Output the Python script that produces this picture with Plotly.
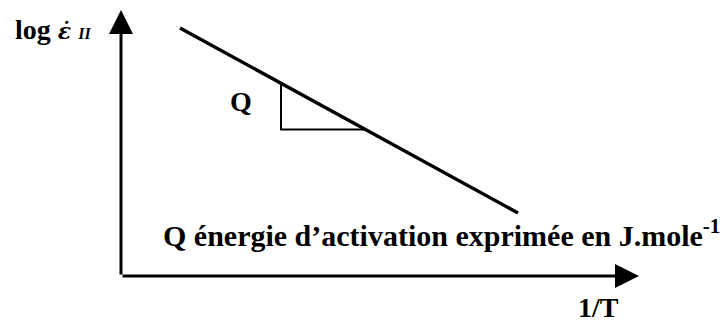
import plotly.graph_objects as go

# Schematic Arrhenius plot: log(strain rate) against 1/T (arbitrary units)
line_x = [1.18, 7.94]          # 1/T
line_y = [4.96, 1.26]          # log strain rate

# slope triangle under the line (activation energy Q)
tri_x = [3.2, 3.2, 4.9]
tri_y = [3.86, 2.93, 2.93]

# axis extents (data units)
x_axis_end = 10.36
y_axis_end = 5.32

FONT = "Liberation Serif"
INK = "#000000"

fig = go.Figure()

fig.add_trace(go.Scatter(
    x=line_x, y=line_y, mode="lines",
    line=dict(color=INK, width=3.4), hoverinfo="skip", showlegend=False))

fig.add_trace(go.Scatter(
    x=tri_x, y=tri_y, mode="lines",
    line=dict(color=INK, width=2), hoverinfo="skip", showlegend=False))

# axes drawn as arrows from the origin
for tip_x, tip_y in [(x_axis_end, 0), (0, y_axis_end)]:
    fig.add_annotation(
        x=tip_x, y=tip_y, ax=0, ay=0, xref="x", yref="y", axref="x", ayref="y",
        text="", showarrow=True, arrowhead=2, arrowsize=1.6, arrowwidth=3,
        arrowcolor=INK, standoff=0, startstandoff=0)

labels = [
    dict(x=-2.16, y=4.94, xanchor="left", size=28,
         text="<b>log <span style='font-family:DejaVu Serif;font-size:22px'><i>ε̇</i></span>"
              " <span style='font-size:16px'><i>II</i></span></b>"),
    dict(x=2.4, y=3.5, xanchor="center", size=28, text="<b>Q</b>"),
    dict(x=0.8, y=0.86, xanchor="left", size=30,
         text="<b>Q énergie d’activation exprimée en J.mole<sup>-1</sup></b>"),
    dict(x=9.55, y=-0.62, xanchor="center", size=28, text="<b>1/T</b>"),
]
for lab in labels:
    fig.add_annotation(
        x=lab["x"], y=lab["y"], xref="x", yref="y", text=lab["text"],
        showarrow=False, xanchor=lab["xanchor"], yanchor="middle",
        font=dict(family=FONT, size=lab["size"], color=INK))

fig.update_xaxes(range=[-2.42, 12.14], visible=False, fixedrange=True)
fig.update_yaxes(range=[-0.92, 5.52], visible=False, fixedrange=True)

fig.update_layout(
    width=728, height=322,
    margin=dict(l=0, r=0, t=0, b=0),
    paper_bgcolor="white", plot_bgcolor="white",
    showlegend=False)

fig.write_html("out.html", config={"displayModeBar": False})
